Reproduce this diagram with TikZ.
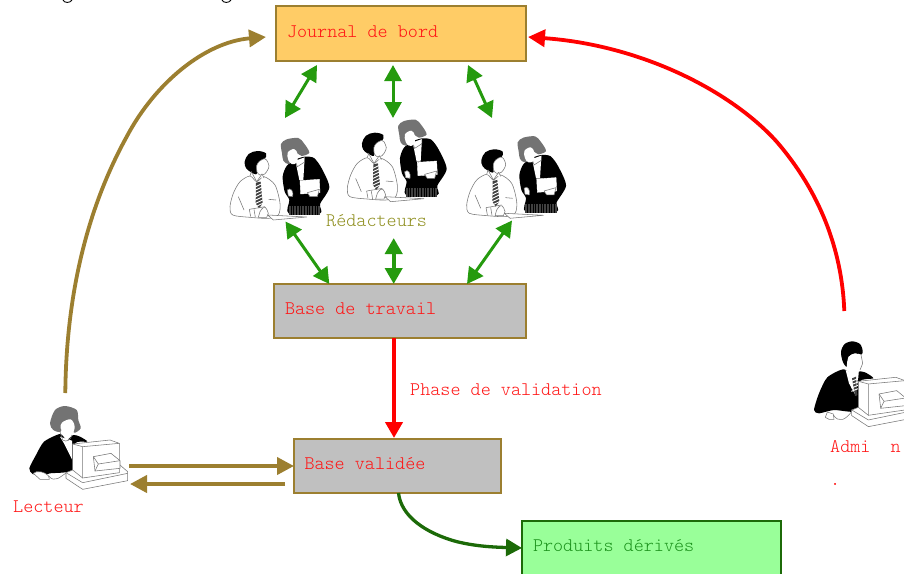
\documentclass[tikz,border=0pt]{standalone}
\usepackage{fontspec}
\setmonofont{Latin Modern Mono Light}
\usetikzlibrary{arrows.meta}
\definecolor{brownc}{HTML}{9C7F30}
\definecolor{greenc}{HTML}{259A0E}
\definecolor{dgreen}{HTML}{1C6A08}
\definecolor{orangebox}{HTML}{FFCC66}
\definecolor{greybox}{HTML}{C0C0C0}
\definecolor{lgreenbox}{HTML}{99FF99}
\definecolor{olivec}{HTML}{8F8F20}
\definecolor{outl}{HTML}{777777}
\definecolor{redtxt}{HTML}{FF1414}
\definecolor{greentxt}{HTML}{1E941E}
\tikzset{
  box/.style={draw=brownc,line width=2pt,rectangle,inner sep=0pt,outer sep=0pt,anchor=north west,align=flush left,font=\ttfamily\fontsize{19.2}{21}\selectfont},
  lab/.style={inner sep=0pt,anchor=west,align=flush left,font=\ttfamily\fontsize{19.2}{21}\selectfont},
  dbl/.style={greenc,line width=3pt,{Triangle[length=16pt,width=17pt]}-{Triangle[length=16pt,width=17pt]}},
  curved/.style={line width=3.8pt,line join=round,-{Triangle[length=17pt,width=17pt]}},
  ol/.style={draw=outl,line width=.55pt,fill=white,line join=round},
  pics/pair/.style={code={
    % man
    \draw[ol] plot[smooth cycle,tension=.5] coordinates {(90,528)(60,545)(40,580)(30,620)(38,645)(90,652)(145,655)(175,645)(180,610)(165,555)(132,530)(110,545)};
    \fill[black] plot[smooth cycle,tension=.6] coordinates {(74,485)(86,462)(112,453)(138,460)(134,478)(118,484)(110,497)(110,522)(92,516)(78,504)};
    \draw[ol] plot[smooth cycle,tension=.5] coordinates {(118,484)(133,476)(140,480)(147,497)(143,510)(134,522)(120,525)(111,516)(110,497)};
    \draw[ol] (90,528)--(94,515)--(110,545)--(126,522)--(132,534);
    \fill[black!75] (108,548)--(122,545)--(128,610)--(117,625)--(107,610)--cycle;
    \foreach \yy in {555,565,575,585,595,605,615}{\draw[white,line width=.9pt] (105,\yy+6)--(130,\yy-6);}
    \draw[outl,line width=.55pt] (55,590)--(72,630)(88,628)--(92,650)(102,628)--(106,652)(146,598)--(168,600)(88,628)--(135,620);
    \draw[ol] (120,635)..controls (135,610) and (140,625)..(145,640)--(140,652)--(115,652)--cycle;
    % woman jacket
    \fill[black] plot[smooth cycle,tension=.45] coordinates {(228,478)(200,498)(188,530)(194,575)(208,600)(206,640)(300,640)(300,612)(328,562)(305,505)(282,474)(255,470)};
    \fill[black!75] (206,618) rectangle (300,645);
    \foreach \xx in {212,220,...,296}{\draw[black,line width=.3pt] (\xx,618)--(\xx,645);}
    \fill[white] (226,482)--(254,472)--(250,540)--(238,540)--cycle;
    \draw[outl,line width=.55pt] (226,482)--(232,500)--(254,486)--(254,472);
    % woman hair and face
    \fill[black!55] plot[smooth cycle,tension=.5] coordinates {(183,432)(200,418)(235,414)(252,430)(268,458)(245,468)(232,460)(228,475)(205,492)(190,482)(186,460)};
    \fill[white] plot[smooth cycle,tension=.6] coordinates {(203,458)(222,447)(233,462)(230,488)(215,492)(205,480)};
    % folder and hand
    \draw[white,fill=white] (240,542)--(298,538)--(300,578)--(242,582)--cycle;
    \draw[ol] (202,570)..controls (212,560) and (222,575)..(218,590)--(205,588)--cycle;
    \draw[ol] (262,578)--(298,568)--(292,590)--(270,590)--cycle;
    % paper
    \draw[ol] (143,645)--(260,651)--(160,660)--cycle;
  }},
  pics/computer/.style={code={
    \draw[ol] (198,248)--(218,240)--(360,225)--(383,245)--(383,272)--(248,298)--(198,265)--cycle;
    \draw[outl,line width=.55pt] (198,248)--(248,278)--(383,250);
    \draw[ol] (218,162)--(330,150)--(358,160)--(358,248)--(248,264)--(218,240)--cycle;
    \draw[outl,line width=.55pt] (218,162)--(248,170)--(358,160)(248,170)--(248,264);
    \draw[ol] (280,200)--(333,190)--(360,212)--(360,235)--(285,243)--cycle;
    \draw[outl,line width=.55pt] (280,200)--(295,222)--(360,212)(295,222)--(285,243);
  }},
  pics/readerw/.style={code={
    \fill[black] plot[smooth cycle,tension=.4] coordinates {(180,132)(132,155)(108,195)(88,235)(98,252)(130,256)(150,250)(218,240)(225,160)(262,155)(240,140)(220,135)(200,150)};
    \fill[white] (180,140)--(216,152)--(216,208)--(192,160)--cycle;
    \fill[black!55] plot[smooth cycle,tension=.5] coordinates {(150,100)(165,60)(195,48)(230,60)(235,90)(242,115)(222,128)(215,100)(190,95)(182,125)(160,120)};
    \fill[white] plot[smooth cycle,tension=.6] coordinates {(186,98)(212,88)(224,110)(215,133)(195,130)(182,115)};
    \draw[outl,line width=.55pt] (180,125)--(188,150)..controls(200,158)and(212,150)..(216,135);
    \draw[ol] (100,250)..controls(110,240)and(135,245)..(146,258)--(148,268)--(120,268)--cycle;
    \draw[outl,line width=.55pt] (146,258)..controls(165,280)and(180,260)..(200,248);
  }},
  pics/readerm/.style={code={
    \fill[black] plot[smooth cycle,tension=.4] coordinates {(180,148)(130,172)(105,220)(90,270)(105,280)(150,270)(222,272)(226,185)(268,175)(245,158)(225,155)(220,180)};
    \fill[white] (185,150)--(222,172)--(216,228)--(195,190)--cycle;
    \fill[black!75] (204,175)--(216,170)--(220,225)--(213,228)--cycle;
    \foreach \yy in {180,190,200,210}{\draw[white,line width=.9pt] (202,\yy+4)--(222,\yy-4);}
    \fill[black] plot[smooth cycle,tension=.5] coordinates {(171,95)(182,72)(205,64)(228,72)(236,92)(232,104)(212,100)(194,110)(188,140)(176,124)};
    \fill[white] plot[smooth cycle,tension=.5] coordinates {(194,110)(212,102)(231,104)(236,130)(226,150)(205,150)(189,140)};
    \draw[outl,line width=.55pt] (231,104)--(236,130)--(228,150);
    \draw[ol] (124,292)--(130,276)--(148,282)--(150,298)--(135,298)--cycle;
    \draw[outl,line width=.55pt] (148,285)..controls(165,310)and(185,300)..(205,272);
  }}
}
\begin{document}
\begin{tikzpicture}[x=1pt,y=-1pt]
\useasboundingbox (0,0) rectangle (904,573);
\clip (0,0) rectangle (904,573);
% cut-off letters at the top edge
\draw[black,line width=.9pt] (63,0) .. controls (64,3) and (70,3.5) .. (72,0);
\draw[black,line width=.9pt] (222,0) .. controls (223,3) and (229,3.5) .. (231,0);
% boxes
\node[box,fill=orangebox,minimum width=250pt,minimum height=55pt,text width=228pt,text=redtxt] (journal) at (276,6) {\raisebox{4pt}{Journal de bord}};
\node[box,fill=greybox,minimum width=252pt,minimum height=54pt,text width=230pt,text=redtxt] (travail) at (274,284) {\raisebox{4pt}{Base de travail}};
\node[box,fill=greybox,minimum width=207pt,minimum height=54pt,text width=186pt,text=redtxt] (validee) at (294,439) {\raisebox{4pt}{Base validée}};
\node[box,draw=dgreen,fill=lgreenbox,minimum width=259pt,minimum height=70pt,text width=237pt,text=greentxt] (produits) at (522,521) {\raisebox{20pt}{Produits dérivés}};
% figures
\pic (g1) at (220,0) [scale=1/3] {pair};
\pic (g2) at (337.3,-18.3) [scale=1/3] {pair};
\pic (g3) at (456.7,-1.7) [scale=1/3] {pair};
\pic (lw) at (0,390) [scale=1/3] {readerw};
\pic (lc) at (0,390) [scale=1/3] {computer};
\pic (am) at (784,320) [scale=1/3] {readerm};
\pic (ac) at (785.7,327.3) [scale=1/3] {computer};
% labels
\node[lab,text=olivec] (redac) at (326,221) {Rédacteurs};
\node[lab,text=redtxt] (phase) at (410,390) {Phase de validation};
\node[lab,text=redtxt] (lecteur) at (13,507) {Lecteur};
\node[lab,text=redtxt,anchor=north west] (admin) at (830,440) {Admi\ \ n\\[12pt].};
% free ends
\coordinate (p1) at (285,118);
\coordinate (p2) at (393,118);
\coordinate (p3) at (492,118);
\coordinate (q1) at (285.5,221.5);
\coordinate (q2) at (393.7,238);
\coordinate (q3) at (512,220.5);
\coordinate (lecU) at (65.3,393);
\coordinate (lecR) at (129,466);
\coordinate (lecL) at (130,484);
\coordinate (admU) at (844.3,311);
\coordinate (jW) at ([xshift=-10pt,yshift=-3.5pt]journal.west);
\coordinate (jE) at ([xshift=2pt,yshift=-3.5pt]journal.east);
% green double arrows
\draw[dbl] ([xshift=-84pt,yshift=-4pt]journal.south) -- (p1);
\draw[dbl] ([xshift=-8pt,yshift=-4pt]journal.south) -- (p2);
\draw[dbl] ([xshift=67pt,yshift=-4pt]journal.south) -- (p3);
\draw[dbl] (q1) -- ([xshift=-70.7pt]travail.north);
\draw[dbl,line width=4pt] (q2) -- ([xshift=-6.3pt]travail.north);
\draw[dbl] (q3) -- ([xshift=67pt]travail.north);
% red vertical
\draw[red,line width=4pt,-{Triangle[length=16pt,width=17pt]}] ([xshift=-6pt]travail.south) -- ([xshift=-3.5pt,yshift=1pt]validee.north);
% Lecteur
\draw[brownc,curved] (lecU) .. controls (66,320) and (78,225) .. (126.7,136.7) .. controls (155,83) and (205,42) .. (jW);
\draw[brownc,line width=4pt,-{Triangle[length=17pt,width=17pt]}] (lecR) -- (lecR -| validee.west);
\draw[brownc,line width=4pt,-{Triangle[length=17pt,width=17pt]}] ([xshift=-9pt]validee.west |- lecL) -- (lecL);
% Admin
\draw[red,curved] (admU) .. controls (842,250) and (820,192) .. (776.7,141.7) .. controls (730,90) and (640,45) .. (jE);
% Produits
\draw[dgreen,line width=3.3pt,-{Triangle[length=16pt,width=17pt]}] ([xshift=1pt]validee.south) .. controls (401,516) and (425,533) .. (457,541.7) .. controls (475,546) and (490,547) .. (produits.west |- 0,548);
\end{tikzpicture}
\end{document}
